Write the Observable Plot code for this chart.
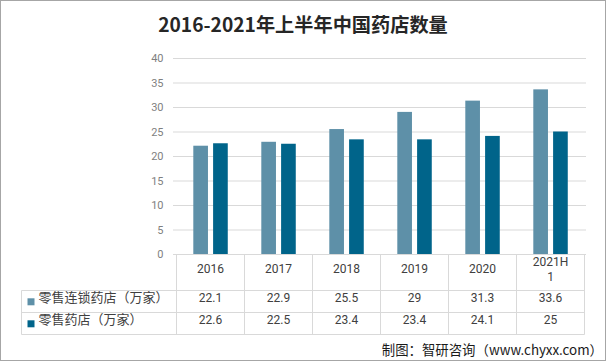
<!DOCTYPE html>
<html><head><meta charset="utf-8">
<script src="https://cdn.jsdelivr.net/npm/d3@7"></script>
<script src="https://cdn.jsdelivr.net/npm/@observablehq/plot@0.6"></script>
<style>
html,body{margin:0;padding:0;background:#fff;}
#wrap{position:relative;width:606px;height:361px;overflow:hidden;font-family:"Noto Sans CJK SC",sans-serif;background:#fff;}
#frame{position:absolute;left:0;top:0;width:606px;height:361px;box-sizing:border-box;border:1px solid #a6a6a6;pointer-events:none;}
#title{height:45px;line-height:49px;text-align:center;font-size:19.2px;font-weight:bold;color:#262626;white-space:nowrap;}
#chart svg{display:block;}
#caption{position:absolute;right:3px;top:339px;font-size:13.4px;color:#1a1a1a;line-height:20px;white-space:nowrap;}
</style></head>
<body><div id="wrap"><div id="title">2016-2021年上半年中国药店数量</div><div id="chart"></div><div id="caption">制图：智研咨询（www.chyxx.com）</div><div id="frame"></div></div>
<script>
// ---- data ----
const categories = ["2016", "2017", "2018", "2019", "2020", "2021H1"];
const headerLabels = ["2016", "2017", "2018", "2019", "2020", "2021H\n1"];
const seriesNames = ["零售连锁药店（万家）", "零售药店（万家）"];
const chainStores = [22.1, 22.9, 25.5, 29, 31.3, 33.6];
const retailStores = [22.6, 22.5, 23.4, 23.4, 24.1, 25];
const yTicks = [0, 5, 10, 15, 20, 25, 30, 35, 40];

// ---- styling / layout ----
const colors = ["#5e90a8", "#00648a"];
const GRID = "#d9d9d9";
const TEXT = "#404040";
const NUM_FONT = "Roboto, 'Liberation Sans', sans-serif";
const W = 606, H = 292;
const ML = 173, MR = 20, MT = 13, MB = 83;
const HEADER_H = 36.3, ROW_H = 22, LINE_H = 15;
const TABLE_LEFT = 21.5;
const bw = (W - ML - MR) / categories.length;
const BAR_W = 15.5, GAP = 4.3, PAD = 17.3;

const rows = categories.map((c, i) => ({category: c, chain: chainStores[i], retail: retailStores[i]}));
const seriesValues = [chainStores, retailStores];

function tableGrid(index, scales) {
  const {x, y} = scales;
  const w = x.bandwidth ? x.bandwidth() : bw;
  const y0 = y(0);
  const top = Math.round(y0) + 0.5;
  const rs = [y0 + HEADER_H, y0 + HEADER_H + ROW_H, y0 + HEADER_H + 2 * ROW_H].map(v => Math.round(v) + 0.5);
  const right = Math.round(x(categories[categories.length - 1]) + w) + 0.5;
  const g = d3.create("svg:g").attr("stroke", GRID).attr("fill", "none").attr("stroke-width", 1);
  for (const r of rs) g.append("line").attr("x1", TABLE_LEFT).attr("x2", right).attr("y1", r).attr("y2", r);
  for (const c of categories) {
    const xx = Math.round(x(c)) + 0.5;
    g.append("line").attr("x1", xx).attr("x2", xx).attr("y1", top).attr("y2", rs[2]);
  }
  g.append("line").attr("x1", right).attr("x2", right).attr("y1", top).attr("y2", rs[2]);
  g.append("line").attr("x1", TABLE_LEFT).attr("x2", TABLE_LEFT).attr("y1", rs[0]).attr("y2", rs[2]);
  return g.node();
}

const headerLines = headerLabels.map(s => s.split("\n"));
const single = categories.filter((d, i) => headerLines[i].length === 1);
const wrapped = categories.filter((d, i) => headerLines[i].length === 2);
const marks = [
  Plot.ruleY(yTicks, {stroke: GRID, strokeOpacity: 1}),
  Plot.text(yTicks, {y: d => d, text: d => String(d), frameAnchor: "left", dx: -10, textAnchor: "end", fill: "#7f7f7f", fontSize: 11, fontFamily: NUM_FONT}),
  Plot.barY(rows, {x: "category", y: "chain", fill: colors[0], insetLeft: PAD, insetRight: bw - PAD - BAR_W}),
  Plot.barY(rows, {x: "category", y: "retail", fill: colors[1], insetLeft: PAD + BAR_W + GAP, insetRight: bw - PAD - 2 * BAR_W - GAP}),
  tableGrid,
  Plot.text(single, {x: d => d, text: d => headerLabels[categories.indexOf(d)], frameAnchor: "bottom", dy: HEADER_H / 2, fill: TEXT, fontSize: 12, fontFamily: NUM_FONT}),
  Plot.text(wrapped, {x: d => d, text: d => headerLines[categories.indexOf(d)][0], frameAnchor: "bottom", dy: HEADER_H / 2 - LINE_H / 2 + 0.5, fill: TEXT, fontSize: 12, fontFamily: NUM_FONT}),
  Plot.text(wrapped, {x: d => d, text: d => headerLines[categories.indexOf(d)][1], frameAnchor: "bottom", dy: HEADER_H / 2 + LINE_H / 2 + 0.5, fill: TEXT, fontSize: 12, fontFamily: NUM_FONT})
];
seriesNames.forEach((name, s) => {
  const dy = HEADER_H + ROW_H * s + ROW_H / 2;
  marks.push(
    Plot.text(categories, {x: d => d, text: (d, i) => String(seriesValues[s][i]), frameAnchor: "bottom", dy, fill: TEXT, fontSize: 12, fontFamily: NUM_FONT}),
    Plot.dot([name], {frameAnchor: "bottom-left", dx: TABLE_LEFT + 9 - ML, dy, symbol: "square", r: 3.95, fill: colors[s], stroke: "none"}),
    Plot.text([name], {text: d => d, frameAnchor: "bottom-left", dx: 38 - ML, dy, textAnchor: "start", fill: TEXT, fontSize: 13})
  );
});

const chart = Plot.plot({
  width: W, height: H,
  marginTop: MT, marginBottom: MB, marginLeft: ML, marginRight: MR,
  style: {fontFamily: "'Noto Sans CJK SC', sans-serif", background: "transparent", overflow: "visible"},
  x: {domain: categories, padding: 0, axis: null},
  y: {domain: [0, 40], axis: null},
  marks
});
document.getElementById("chart").appendChild(chart);
</script>
</body></html>
